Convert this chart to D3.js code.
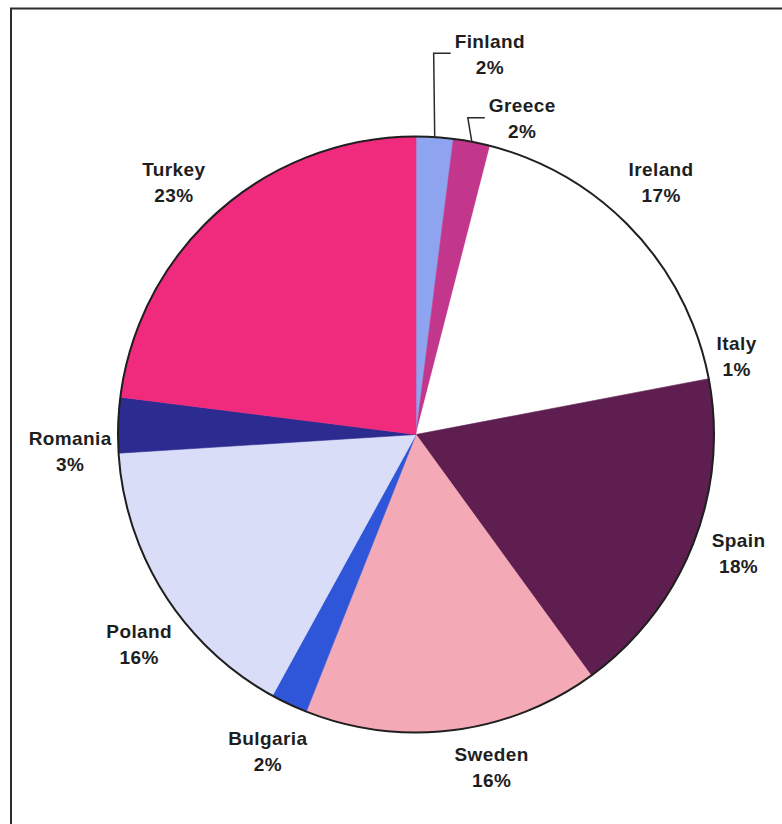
<!DOCTYPE html>
<html>
<head>
<meta charset="utf-8">
<script src="https://cdn.jsdelivr.net/npm/d3@7"></script>
<style>
  html, body { margin: 0; padding: 0; background: #ffffff; }
  svg { display: block; }
  .lbl { font-family: "Liberation Sans", Arial, sans-serif; font-weight: bold; font-size: 19px; fill: #1e1e1e; letter-spacing: 0.4px; }
</style>
</head>
<body>
<script>
// Share of total by country (percent), clockwise from 12 o'clock
const countries = ["Finland", "Greece", "Ireland", "Italy", "Spain", "Sweden", "Bulgaria", "Poland", "Romania", "Turkey"];
const shares    = [2, 2, 17, 1, 18, 16, 2, 16, 3, 23];
const sliceColors = ["#8ea4f0", "#c2378c", "#ffffff", "#ffffff", "#5e1f50", "#f4a9b6", "#2f56d8", "#d9ddf7", "#2b2b90", "#f02a7c"];

// Label placement tweaks relative to the slice's outer centroid
const labelNudge = [[52, -33], [41, 26], [-1, -6], [-19, -2], [-1, -9], [32, -12], [0, 2], [17, 24], [2, 28], [-12, 9]];
// Slices whose labels get a leader line
const withLeader = new Set(["Finland", "Greece"]);

const W = 782, H = 824;
const cx = 416, cy = 434.5, R = 298, labelR = 348;

const svg = d3.select("body").append("svg").attr("width", W).attr("height", H);
svg.append("rect").attr("width", W).attr("height", H).attr("fill", "#ffffff");

// Chart frame (runs off the right and bottom edges)
svg.append("rect")
  .attr("x", 11).attr("y", 8.5).attr("width", 820).attr("height", 860)
  .attr("fill", "none").attr("stroke", "#2c2c2c").attr("stroke-width", 2);

const data = countries.map((c, i) => ({ name: c, value: shares[i], color: sliceColors[i], nudge: labelNudge[i] }));

const pie = d3.pie().value(d => d.value).sort(null);
const arcs = pie(data);
const arc = d3.arc().innerRadius(0).outerRadius(R);

const g = svg.append("g").attr("transform", `translate(${cx},${cy})`);

g.selectAll("path.slice").data(arcs).join("path")
  .attr("class", "slice")
  .attr("d", arc)
  .attr("fill", d => d.data.color)
  .attr("stroke", d => d.data.color)
  .attr("stroke-width", 0.6);

// Outline of the pie
g.append("circle").attr("r", R).attr("fill", "none").attr("stroke", "#1f1f1f").attr("stroke-width", 2);

const mid = d => (d.startAngle + d.endAngle) / 2;

arcs.forEach(d => {
  const a = mid(d);
  const bx = labelR * Math.sin(a) + d.data.nudge[0];
  const by = -labelR * Math.cos(a) + d.data.nudge[1];
  const nameBase = by - 6.5, pctBase = by + 19.5;

  const t = g.append("text").attr("class", "lbl").attr("text-anchor", "middle");
  t.append("tspan").attr("x", bx).attr("y", nameBase).text(d.data.name);
  t.append("tspan").attr("x", bx).attr("y", pctBase).text(d.data.value + "%");

  if (withLeader.has(d.data.name)) {
    const w = t.select("tspan").node().getComputedTextLength();
    const left = bx - w / 2;
    const ax = R * Math.sin(a), ay = -R * Math.cos(a);
    const ey = nameBase + 5.5;
    const line = d3.line();
    g.append("path")
      .attr("d", line([[ax, ay], [left - 21, ey], [left - 4, ey]]))
      .attr("fill", "none").attr("stroke", "#2a2a2a").attr("stroke-width", 1.5);
  }
});
</script>
</body>
</html>
